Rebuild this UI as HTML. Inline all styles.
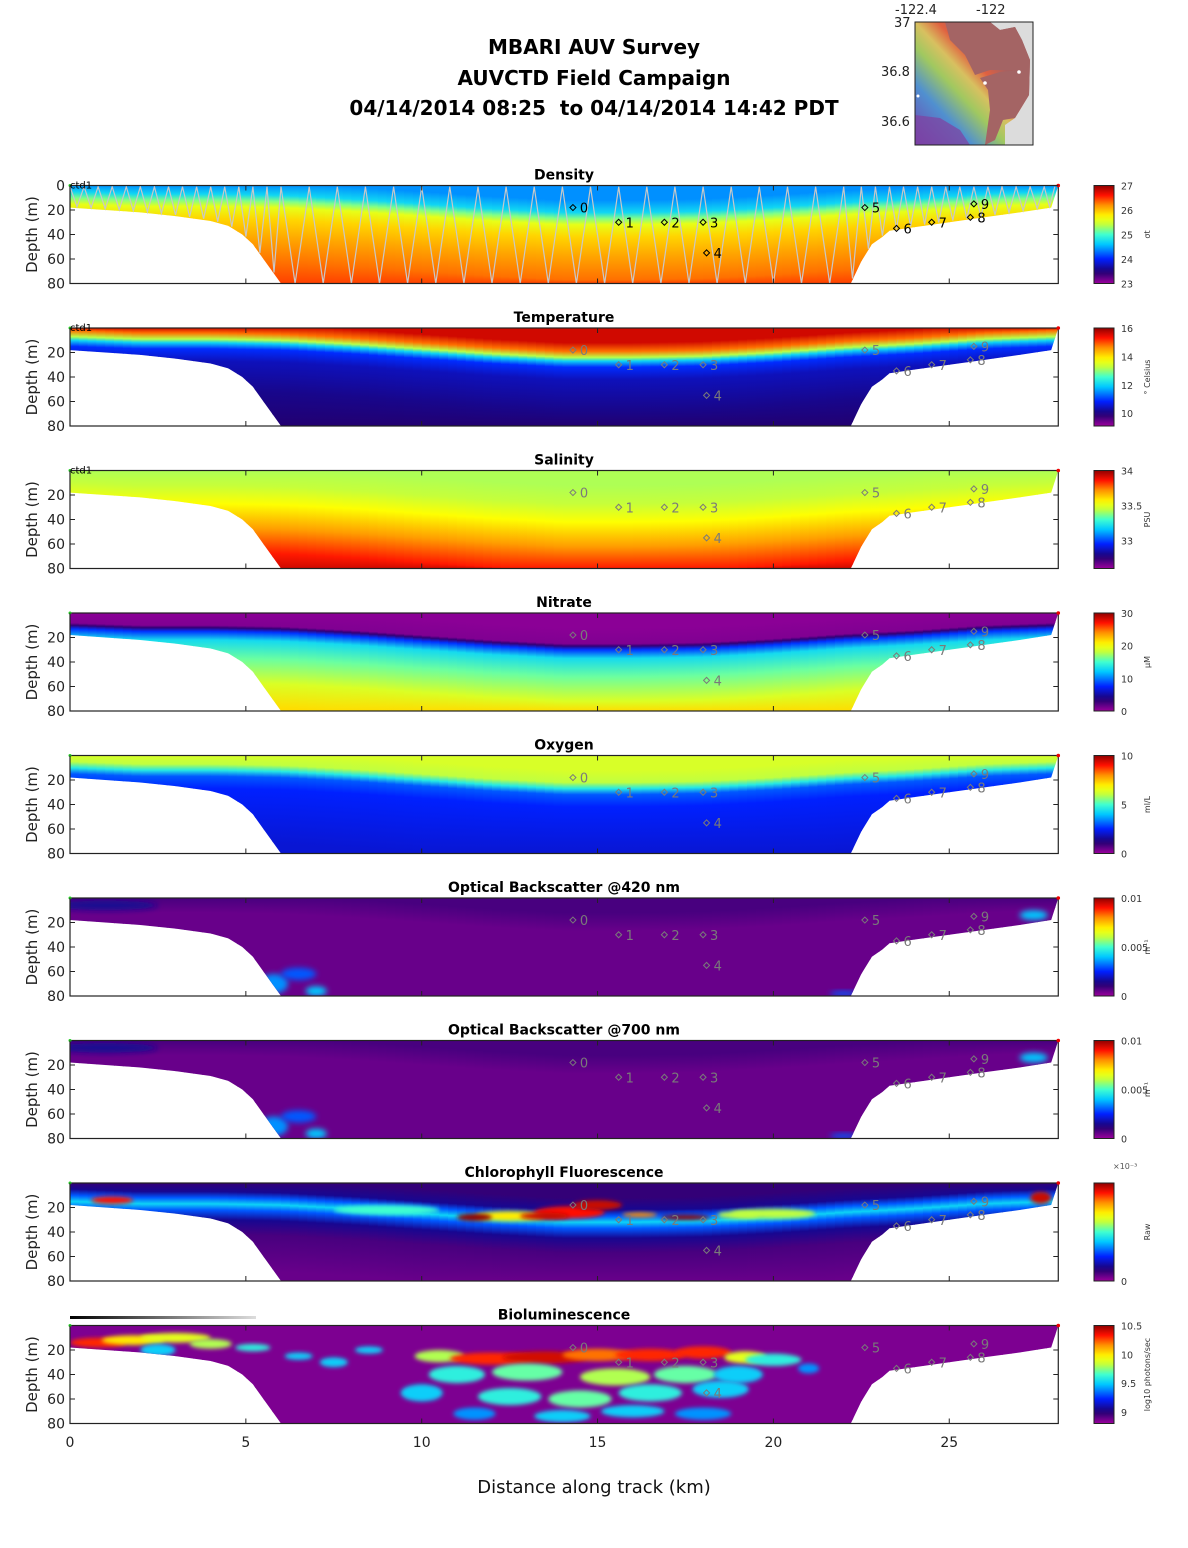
<!DOCTYPE html>
<html><head><meta charset="utf-8"><style>
html,body{margin:0;padding:0;background:#fff}
svg{display:block;font-family:"DejaVu Sans","Liberation Sans",sans-serif}
</style></head><body>
<svg id="fig" width="1188" height="1548" viewBox="0 0 1188 1548" xmlns="http://www.w3.org/2000/svg">
<defs>
<filter id="blur3" x="-50%" y="-50%" width="200%" height="200%"><feGaussianBlur stdDeviation="3"/></filter>
<filter id="blur2" x="-50%" y="-50%" width="200%" height="200%"><feGaussianBlur stdDeviation="2"/></filter>
<linearGradient id="mapg" x1="0" y1="1" x2="1" y2="0">
<stop offset="0" stop-color="#7040b0"/><stop offset="0.25" stop-color="#5090d0"/><stop offset="0.4" stop-color="#a0c860"/><stop offset="0.5" stop-color="#d8c060"/><stop offset="0.6" stop-color="#e06040"/><stop offset="0.7" stop-color="#a86060"/><stop offset="1" stop-color="#a06060"/>
</linearGradient>
<linearGradient id="scalebar" x1="0" x2="1"><stop offset="0" stop-color="#000"/><stop offset="1" stop-color="#ddd"/></linearGradient>
</defs>
<g font-weight="bold" font-size="20" text-anchor="middle" fill="#000">
<text x="594" y="54">MBARI AUV Survey</text>
<text x="594" y="85">AUVCTD Field Campaign</text>
<text x="594" y="115" xml:space="preserve">04/14/2014 08:25  to 04/14/2014 14:42 PDT</text>
</g>
<g>
<rect x="915" y="22" width="118" height="123" fill="#dcdcdc"/>
<polygon points="915,22 990,22 1000,30 1015,27 1022,40 1030,60 1029,95 1015,118 1005,125 1005,145 915,145" fill="url(#mapg)"/>
<polygon points="945,22 990,22 1000,30 1015,27 1022,40 1030,60 1029,95 1015,118 1003,120 995,140 985,145 990,110 988,90 980,78 1000,72 1020,70 990,70 975,75 965,55 950,40" fill="#a46464"/>
<polygon points="915,115 940,118 960,130 970,145 915,145" fill="#8040a0" opacity="0.7"/>
<circle cx="918" cy="96" r="1.5" fill="#fff"/><circle cx="1019" cy="72" r="1.8" fill="#fff"/><circle cx="985" cy="83" r="1.8" fill="#fff"/>
<rect x="915" y="22" width="118" height="123" fill="none" stroke="#222" stroke-width="1"/>
<g font-size="13" fill="#222"><text x="895" y="14">-122.4</text><text x="976" y="14">-122</text><text x="894" y="27">37</text><text x="881" y="76">36.8</text><text x="881" y="126">36.6</text></g>
</g>
<g id="panels"></g>
<g font-size="14" fill="#222" text-anchor="middle" id="xticks"></g>
<text x="594" y="1493" font-size="18" text-anchor="middle" fill="#111">Distance along track (km)</text>
<rect x="70" y="1316" width="186" height="3" fill="url(#scalebar)"/>
</svg>
<script>
// ---- data ----
const stationNames=["0","1","2","3","4","5","6","7","8","9"];
const stationKm=[14.3,15.6,16.9,18.0,18.1,22.6,23.5,24.5,25.6,25.7];
const stationDepth=[18,30,30,30,55,18,35,30,26,15];
const bathyLeftKm=[0,1,2,3,4,4.5,4.9,5.2,5.5,5.8,6.0];
const bathyLeftDepth=[18,20,22,25,29,33,40,48,60,72,80];
const bathyRightKm=[22.2,22.5,22.8,23.1,23.3,24,25,26,27,27.9,28.1];
const bathyRightDepth=[80,62,48,42,37,34,30,26,22,18,0];
const clineKm=[0,2,4,6,8,10,12,14,16,18,20,22,24,26,28];
const clineDepth=[10,12,12,13,16,20,24,27,27,26,23,19,16,12,10];
const yoTopsKm=[0,0.4,0.8,1.2,1.6,2.0,2.4,2.8,3.2,3.6,4.0,4.4,4.8,5.2,5.6,6.0,6.8,7.6,8.4,9.2,10.0,10.8,11.6,12.4,13.2,14.0,14.8,15.6,16.4,17.2,18.0,18.8,19.6,20.4,21.2,22.0,22.5,22.9,23.3,23.7,24.1,24.5,24.9,25.3,25.7,26.1,26.5,26.9,27.3,27.7,28.0];
const xTicks=[0,5,10,15,20,25];
const panelTitles=["Density","Temperature","Salinity","Nitrate","Oxygen","Optical Backscatter @420 nm","Optical Backscatter @700 nm","Chlorophyll Fluorescence","Bioluminescence"];
const panelUnits=["σt","° Celsius","PSU","μM","ml/L","m⁻¹","m⁻¹","Raw","log10 photons/sec"];
const panelMin=[23,9.1,32.6,0,0,0,0,0,8.8];
const panelMax=[27,16,34,30,10,0.01,0.01,0.001,10.5];
const panelTicks=[[23,24,25,26,27],[10,12,14,16],[33,33.5,34],[0,10,20,30],[0,5,10],[0,0.005,0.01],[0,0.005,0.01],[0,0.5,1],[9,9.5,10,10.5]];
const profOffsets=[
[-15,-5,0,5,15,30,50,70],
[-15,-8,-3,0,5,15,40,70],
[-15,0,15,35,55,70],
[-15,-2,0,3,10,25,45,65],
[-15,-5,0,5,15,60],
[-15,0,20,70],
[-15,0,20,70],
[-15,-5,0,5,10,18,30,60],
[-15,70]];
const profValues=[
[24.4,24.7,25.2,25.6,25.9,26.1,26.3,26.45],
[15.6,14.8,13.2,12.0,10.9,10.4,10.1,9.9],
[33.42,33.45,33.55,33.7,33.85,33.92],
[0.5,0.8,3,8,13,16,19,21.5],
[6.3,6.0,4.6,3.0,2.5,2.1],
[0.0008,0.0005,0.0005,0.0005],
[0.0008,0.0005,0.0005,0.0005],
[0.0001,0.00015,0.0003,0.00042,0.0003,0.00015,0.00008,0.00005],
[8.85,8.85]];
const chlBlobKm=[1.2,12.5,14.2,15.0,11.5,17.5,13.5,9,20,27.6,19.0,16.2];
const chlBlobDepth=[14,27,24,18,28,28,27,22,25,12,26,26];
const chlBlobRx=[0.6,1.0,1.0,0.7,0.5,0.7,0.7,1.5,1.2,0.3,0.6,0.5];
const chlBlobRy=[3,4,5,4,3,2,3,4,4,5,3,2];
const chlBlobVal=[0.0009,0.0007,0.0009,0.00095,0.001,0.001,0.00095,0.0005,0.0006,0.00095,0.0006,0.0008];
const bioBlobKm=[0.8,1.8,3.0,4.0,2.5,5.2,7.5,10.5,12.0,13.5,15.0,16.5,18.0,19.2,20.0,11.0,13.0,15.5,17.5,19.0,10.0,12.5,14.5,16.5,18.5,11.5,14.0,16.0,18.0,8.5,6.5,21.0];
const bioBlobDepth=[14,12,10,15,20,18,30,25,27,26,24,24,22,26,28,40,38,42,40,40,55,58,60,55,52,72,74,70,72,20,25,35];
const bioBlobRx=[0.8,0.9,1.0,0.6,0.5,0.5,0.4,0.7,1.2,1.2,1.0,1.0,0.8,0.6,0.8,0.8,1.0,1.0,0.9,0.7,0.6,0.9,0.9,0.9,0.8,0.6,0.8,0.9,0.8,0.4,0.4,0.3];
const bioBlobRy=[4,4,4,4,5,3,4,5,5,5,5,5,5,5,5,7,7,7,7,7,7,7,7,7,7,5,5,5,5,3,3,4];
const bioBlobVal=[10.3,10.0,9.9,9.8,9.5,9.6,9.5,9.8,10.3,10.4,10.2,10.3,10.3,9.9,9.6,9.6,9.7,9.8,9.7,9.5,9.5,9.6,9.7,9.6,9.5,9.4,9.5,9.5,9.4,9.5,9.5,9.4];
const obsBlobKm=[5.8,6.5,7.0,22.0,23.5,27.4,1.0];
const obsBlobDepth=[70,62,76,78,50,14,6];
const obsBlobRx=[0.4,0.5,0.3,0.4,0.3,0.4,1.5];
const obsBlobRy=[8,5,4,2,6,4,4];
const obsBlobVal=[0.0035,0.003,0.004,0.003,0.003,0.004,0.0015];

// ---- scales ----
const X0=70,XS=35.17,PT0=185.5,PSTEP=142.5,PH=98;
const X=km=>X0+km*XS;
function Y(i,d){return PT0+i*PSTEP+d*PH/80;}
const cmStops=[[0,[156,0,156]],[0.12,[30,0,112]],[0.25,[0,32,255]],[0.4,[0,200,255]],[0.5,[64,255,208]],[0.6,[192,255,64]],[0.68,[255,255,0]],[0.8,[255,144,0]],[0.9,[255,16,0]],[1,[144,0,0]]];
function cmap(f){f=Math.max(0,Math.min(1,f));for(let k=1;k<cmStops.length;k++){if(f<=cmStops[k][0]){const a=cmStops[k-1],b=cmStops[k],t=(f-a[0])/(b[0]-a[0]);const c=a[1].map((v,j)=>Math.round(v+(b[1][j]-v)*t));return`rgb(${c[0]},${c[1]},${c[2]})`;}}return'rgb(144,0,0)';}
function interp(xs,ys,x){if(x<=xs[0])return ys[0];for(let k=1;k<xs.length;k++)if(x<=xs[k]){const t=(x-xs[k-1])/(xs[k]-xs[k-1]);return ys[k-1]+t*(ys[k]-ys[k-1]);}return ys[ys.length-1];}
const NS='http://www.w3.org/2000/svg';
function el(tag,attrs,parent){const e=document.createElementNS(NS,tag);for(const k in attrs)e.setAttribute(k,attrs[k]);if(parent)parent.appendChild(e);return e;}
const svg=document.getElementById('fig'),defs=svg.querySelector('defs'),root=document.getElementById('panels');

function waterPoly(i){const p=[];p.push([X(0),Y(i,0)]);p.push([X(28.1),Y(i,0)]);
for(let k=bathyRightKm.length-1;k>=0;k--)p.push([X(bathyRightKm[k]),Y(i,bathyRightDepth[k])]);
for(let k=bathyLeftKm.length-1;k>=0;k--)p.push([X(bathyLeftKm[k]),Y(i,bathyLeftDepth[k])]);
return p.map(q=>q[0].toFixed(1)+','+q[1].toFixed(1)).join(' ');}

for(let i=0;i<9;i++){
 const g=el('g',{},root);
 
 
 const top=Y(i,0),bot=Y(i,80),mn=panelMin[i],mx=panelMax[i];
 const fr=v=>(v-mn)/(mx-mn);
 const cp=el('clipPath',{id:'clip'+i},defs);el('polygon',{points:waterPoly(i)},cp);
 const field=el('g',{'clip-path':'url(#clip'+i+')'},g);
 
 
 const dk=0.25;
 for(let km=0;km<28.2;km+=dk){
  const cd=interp(clineKm,clineDepth,km+dk/2);
  const gid='g'+i+'_'+Math.round(km*100);
  const lg=el('linearGradient',{id:gid,gradientUnits:'userSpaceOnUse',x1:0,x2:0,y1:top,y2:bot},defs);
  const offs=profOffsets[i],vals=profValues[i];
  for(let k=0;k<offs.length;k++){let d=cd+offs[k];let o=Math.max(0,Math.min(1,d/80));el('stop',{offset:o.toFixed(4),'stop-color':cmap(fr(vals[k]))},lg);}
  const r=el('rect',{x:X(km).toFixed(1),y:top,width:(dk*XS+0.8).toFixed(1),height:PH,fill:'url(#'+gid+')'},field);
  
  
 }
 function blobs(ks,ds,rxs,rys,vs,filt){for(let k=0;k<ks.length;k++){const e=el('ellipse',{cx:X(ks[k]),cy:Y(i,ds[k]),rx:rxs[k]*XS,ry:rys[k]*PH/80,fill:cmap(fr(vs[k])),filter:'url(#'+filt+')'},field);
  
  }}
 if(i==5||i==6)blobs(obsBlobKm,obsBlobDepth,obsBlobRx,obsBlobRy,obsBlobVal,'blur3');
 if(i==7)blobs(chlBlobKm,chlBlobDepth,chlBlobRx,chlBlobRy,chlBlobVal,'blur2');
 if(i==8)blobs(bioBlobKm,bioBlobDepth,bioBlobRx,bioBlobRy,bioBlobVal,'blur2');
 if(i==0){let pts=[];for(let k=0;k<yoTopsKm.length;k++){pts.push([X(yoTopsKm[k]),Y(0,1)]);if(k<yoTopsKm.length-1){const m=(yoTopsKm[k]+yoTopsKm[k+1])/2;let bd=80;if(m<6)bd=interp(bathyLeftKm,bathyLeftDepth,m)-1;else if(m>22.2)bd=interp(bathyRightKm,bathyRightDepth,m)-1;pts.push([X(m),Y(0,Math.min(80,bd))]);}}
  const pl=el('polyline',{points:pts.map(p=>p[0].toFixed(1)+','+p[1].toFixed(1)).join(' '),fill:'none',stroke:'#c8c8c8','stroke-width':1.2},g);
  
  }
 const sc=i==0?'#000':'#7a7a7a';
 for(let k=0;k<stationKm.length;k++){const sx=X(stationKm[k]),sy=Y(i,stationDepth[k]);
  const sg=el('g',{},g);
  
  
  el('polygon',{points:`${sx},${sy-3} ${sx+3},${sy} ${sx},${sy+3} ${sx-3},${sy}`,fill:'none',stroke:sc,'stroke-width':1},sg);
  const t=el('text',{x:sx+7,y:sy+5,'font-size':13,fill:sc},sg);t.textContent=stationNames[k];}
 const fr2=el('rect',{x:X0,y:top,width:X(28.1)-X0,height:PH,fill:'none',stroke:'#222','stroke-width':1.2},g);
 
 
 el('circle',{cx:X(28.1),cy:top,r:1.8,fill:'#e00'},g);
 el('circle',{cx:X0,cy:top,r:1.5,fill:'#2c2'},g);
 for(const xt of xTicks){el('line',{x1:X(xt),x2:X(xt),y1:top,y2:top+5,stroke:'#222'},g);el('line',{x1:X(xt),x2:X(xt),y1:bot,y2:bot-5,stroke:'#222'},g);}
 const yt=i==0?[0,20,40,60,80]:[20,40,60,80];
 const yl=el('g',{'font-size':14,fill:'#222','text-anchor':'end'},g);
 
 
 for(const d of yt){el('line',{x1:X0,x2:X0+5,y1:Y(i,d),y2:Y(i,d),stroke:'#222'},g);el('line',{x1:X(28.1),x2:X(28.1)-5,y1:Y(i,d),y2:Y(i,d),stroke:'#222'},g);const t=el('text',{x:X0-5,y:Y(i,d)+5},yl);t.textContent=d;}
 const ya=el('text',{x:0,y:0,'font-size':15,fill:'#222','text-anchor':'middle',transform:`translate(37,${top+PH/2}) rotate(-90)`},g);ya.textContent='Depth (m)';
 
 
 const ti=el('text',{x:564,y:top-6,'font-size':14,'font-weight':'bold','text-anchor':'middle',fill:'#000'},g);ti.textContent=panelTitles[i];
 
 
 if(i<3){const c=el('text',{x:70,y:top+3,'font-size':10,fill:'#000'},g);c.textContent='ctd1';}
 const cb=el('g',{},g);
 
 
 const cg=el('linearGradient',{id:'cb'+i,x1:0,x2:0,y1:1,y2:0},defs);
 for(let k=0;k<=20;k++)el('stop',{offset:k/20,'stop-color':cmap(k/20)},cg);
 el('rect',{x:1094,y:top,width:20,height:PH,fill:'url(#cb'+i+')',stroke:'#222','stroke-width':1},cb);
 for(const tv of panelTicks[i]){const ty=bot-(tv-mn)/(mx-mn)*PH;const t=el('text',{x:1121,y:ty+4,'font-size':9.5,fill:'#333'},cb);t.textContent=tv;}
 const u=el('text',{x:0,y:0,'font-size':8,fill:'#333','text-anchor':'middle',transform:`translate(1150,${top+PH/2}) rotate(-90)`},cb);u.textContent=panelUnits[i];
 if(i==7){const t=el('text',{x:1113,y:top-14,'font-size':8,fill:'#555'},cb);t.textContent='×10⁻³';}
}
const xg=document.getElementById('xticks');
for(const xt of xTicks){const t=el('text',{x:X(xt),y:1447},xg);t.textContent=xt;}
</script>
</body></html>
